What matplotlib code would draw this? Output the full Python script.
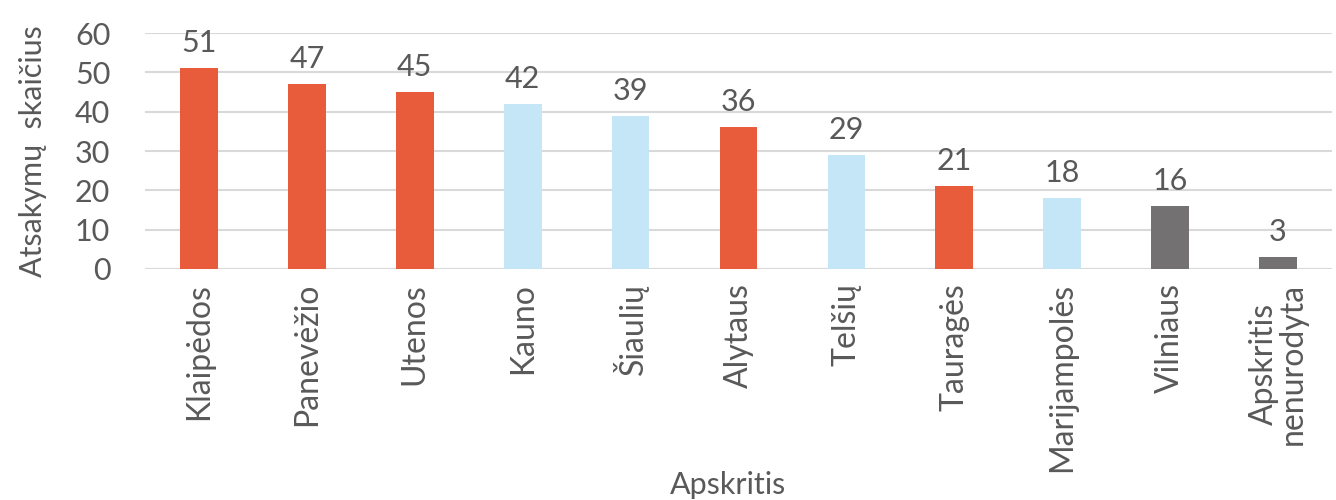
import matplotlib
matplotlib.use("Agg")
import matplotlib.pyplot as plt

categories = ["Klaipėdos", "Panevėžio", "Utenos", "Kauno", "Šiaulių", "Alytaus",
              "Telšių", "Tauragės", "Marijampolės", "Vilniaus", "Apskritis\nnenurodyta"]
values = [51, 47, 45, 42, 39, 36, 29, 21, 18, 16, 3]
groups = ["o", "o", "o", "b", "b", "o", "b", "o", "b", "g", "g"]
yticks = [0, 10, 20, 30, 40, 50, 60]

colmap = {"o": "#E95C3B", "b": "#C5E6F7", "g": "#747173"}
txt = "#595959"

plt.rcParams['font.family'] = ['Lato', 'DejaVu Sans']

fig = plt.figure(figsize=(13.36, 5.0), dpi=100)
ax = fig.add_axes([145/1336, 1-269/500, (1332-145)/1336, (269-33)/500])

x = list(range(len(categories)))
ax.bar(x, values, width=0.35, color=[colmap[g] for g in groups], zorder=3)
for xi, v in zip(x, values):
    ax.text(xi, v + 2.8, str(v), ha="center", va="bottom", fontsize=22, color=txt)

ax.set_ylim(0, 60)
ax.set_xlim(-0.5, len(categories) - 0.5)
ax.set_yticks(yticks)
ax.set_yticklabels([str(t) for t in yticks], fontsize=22, color=txt)
ax.set_xticks(x)
ax.set_xticklabels(categories, rotation=90, fontsize=23, color=txt, linespacing=0.95)
ax.tick_params(axis="y", length=0, pad=25)
ax.tick_params(axis="x", length=0, pad=10)
ax.yaxis.grid(True, color="#D9D9D9", linewidth=1.5, zorder=0)
for s in ax.spines.values():
    s.set_visible(False)
ax.axhline(0, color="#D9D9D9", linewidth=1.5, zorder=2)

ax.set_ylabel("Atsakymų  skaičius", fontsize=22, color=txt, labelpad=20)
fig.text(728/1336, 1-485/500, "Apskritis", ha="center", va="center", fontsize=22, color=txt)

fig.savefig("out.png", dpi=100)
